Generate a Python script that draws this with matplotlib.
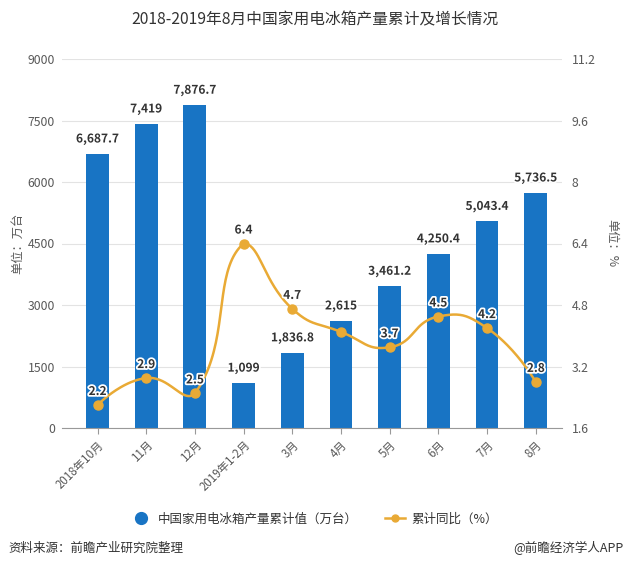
import matplotlib
matplotlib.use("Agg")
import matplotlib.pyplot as plt
import matplotlib.patheffects as pe
from matplotlib.lines import Line2D
import numpy as np

plt.rcParams['font.family'] = ['Noto Sans CJK SC', 'DejaVu Sans']

categories = ["2018年10月", "11月", "12月", "2019年1-2月", "3月", "4月", "5月", "6月", "7月", "8月"]
production = [6687.7, 7419, 7876.7, 1099, 1836.8, 2615, 3461.2, 4250.4, 5043.4, 5736.5]
growth = [2.2, 2.9, 2.5, 6.4, 4.7, 4.1, 3.7, 4.5, 4.2, 2.8]
growth_labels = ["2.2", "2.9", "2.5", "6.4", "4.7", "", "3.7", "4.5", "4.2", "2.8"]
left_ticks = [0, 1500, 3000, 4500, 6000, 7500, 9000]
right_ticks = [1.6, 3.2, 4.8, 6.4, 8, 9.6, 11.2]

BAR = "#1874c4"
LINE = "#e9aa35"
TXT = "#333333"
TICK = "#595959"

fig = plt.figure(figsize=(6.29, 5.68), dpi=100)
W, H = 629, 568
ax = fig.add_axes([62 / W, 1 - 428 / H, 500 / W, (428 - 59) / H])
ax2 = ax.twinx()

x = np.arange(len(categories))
ax.bar(x, production, width=0.47, color=BAR, zorder=2)
ax.set_xlim(-0.73, 9.54)
ax.set_ylim(0, 9000)
ax.set_yticks(left_ticks)
ax.set_yticklabels([str(t) for t in left_ticks], fontsize=8.8, color=TICK)
ax.yaxis.grid(True, color="#e3e3e3", linewidth=0.8, zorder=0)
ax.set_axisbelow(True)
for s in ["top", "right", "left"]:
    ax.spines[s].set_visible(False)
ax.spines["bottom"].set_color("#999999")
ax.tick_params(axis="y", length=0, pad=5)
ax.set_xticks(x)
ax.set_xticklabels(categories, rotation=45, ha="right", va="top", rotation_mode="anchor",
                   fontsize=8.3, color=TICK)
ax.tick_params(axis="x", length=4, color="#999999")
ax.set_ylabel("单位：万台", fontsize=8.8, color=TICK, ha="center", va="center")
ax.yaxis.set_label_coords((18 - 62) / 500, 0.5)

halo = [pe.withStroke(linewidth=2.5, foreground="white")]
for xi, v in zip(x, production):
    lab = f"{v:,.0f}" if float(v).is_integer() else f"{v:,.1f}"
    ax.annotate(lab, (xi, v), xytext=(0, 6), textcoords="offset points", ha="center", va="bottom",
                fontsize=8.6, fontweight="bold", color=TXT, path_effects=halo, zorder=5)

# ECharts-style smooth bezier through the data points (computed in pixel space)
def smooth_curve(xs, ys, sx=48.7, sy=38.4, smooth=0.5, steps=40):
    P = np.column_stack([np.asarray(xs, float) * sx, np.asarray(ys, float) * sy])
    lo, hi = P.min(axis=0), P.max(axis=0)
    n = len(P)
    cps = []
    for i in range(n):
        if i == 0 or i == n - 1:
            cps.append(P[i].copy())
            continue
        v = (P[i + 1] - P[i - 1]) * smooth
        d0 = np.linalg.norm(P[i] - P[i - 1])
        d1 = np.linalg.norm(P[i] - P[i + 1])
        s = d0 + d1
        d0, d1 = d0 / s, d1 / s
        cps.append(np.clip(P[i] - v * d0, lo, hi))
        cps.append(np.clip(P[i] + v * d1, lo, hi))
    t = np.linspace(0, 1, steps)[:, None]
    pts = [P[:1]]
    for i in range(n - 1):
        a, b, c, d = P[i], cps[2 * i], cps[2 * i + 1], P[i + 1]
        seg = ((1 - t) ** 3) * a + 3 * ((1 - t) ** 2) * t * b + 3 * (1 - t) * t ** 2 * c + t ** 3 * d
        pts.append(seg[1:])
    pts = np.vstack(pts)
    return pts[:, 0] / sx, pts[:, 1] / sy

cx, cy = smooth_curve(x, growth)
ax2.plot(cx, cy, color=LINE, linewidth=1.8, zorder=3)
ax2.plot(x, growth, "o", color=LINE, markersize=6.5, zorder=4)
ax2.set_ylim(1.6, 11.2)
ax2.set_yticks(right_ticks)
ax2.set_yticklabels([f"{t:g}" for t in right_ticks], fontsize=8.8, color=TICK)
ax2.tick_params(axis="y", length=0, pad=7)
for s in ["top", "right", "left", "bottom"]:
    ax2.spines[s].set_visible(False)
ax2.set_ylabel("单位：%", fontsize=8.8, color=TICK, rotation=-90, ha="center", va="center")
ax2.yaxis.set_label_coords((612 - 62) / 500, 0.5)
for xi, v, lab in zip(x, growth, growth_labels):
    if lab:
        ax2.annotate(lab, (xi, v), xytext=(0, 5), textcoords="offset points", ha="center", va="bottom",
                     fontsize=8.6, fontweight="bold", color=TXT, path_effects=halo, zorder=6)

fig.text(0.5, 1 - 20 / H, "2018-2019年8月中国家用电冰箱产量累计及增长情况", ha="center", va="center",
         fontsize=11.3, color="#333333")

handles = [Line2D([0], [0], marker="o", color="none", markerfacecolor=BAR, markeredgecolor=BAR, markersize=8.5),
           Line2D([0], [0], marker="o", color=LINE, markerfacecolor=LINE, markersize=5, linewidth=1.8)]
fig.legend(handles, ["中国家用电冰箱产量累计值（万台）", "累计同比（%）"], loc="center",
           bbox_to_anchor=(0.5, 1 - 519 / H), ncol=2, frameon=False, fontsize=9,
           handlelength=1.6, columnspacing=2.2, handletextpad=0.5, labelcolor=TXT)

fig.text(8 / W, 1 - 548 / H, "资料来源：前瞻产业研究院整理", ha="left", va="center", fontsize=9,
         style="italic", color="#333333")
fig.text(624 / W, 1 - 548 / H, "@前瞻经济学人APP", ha="right", va="center", fontsize=9, color="#333333")

fig.savefig("out.png", dpi=100)
